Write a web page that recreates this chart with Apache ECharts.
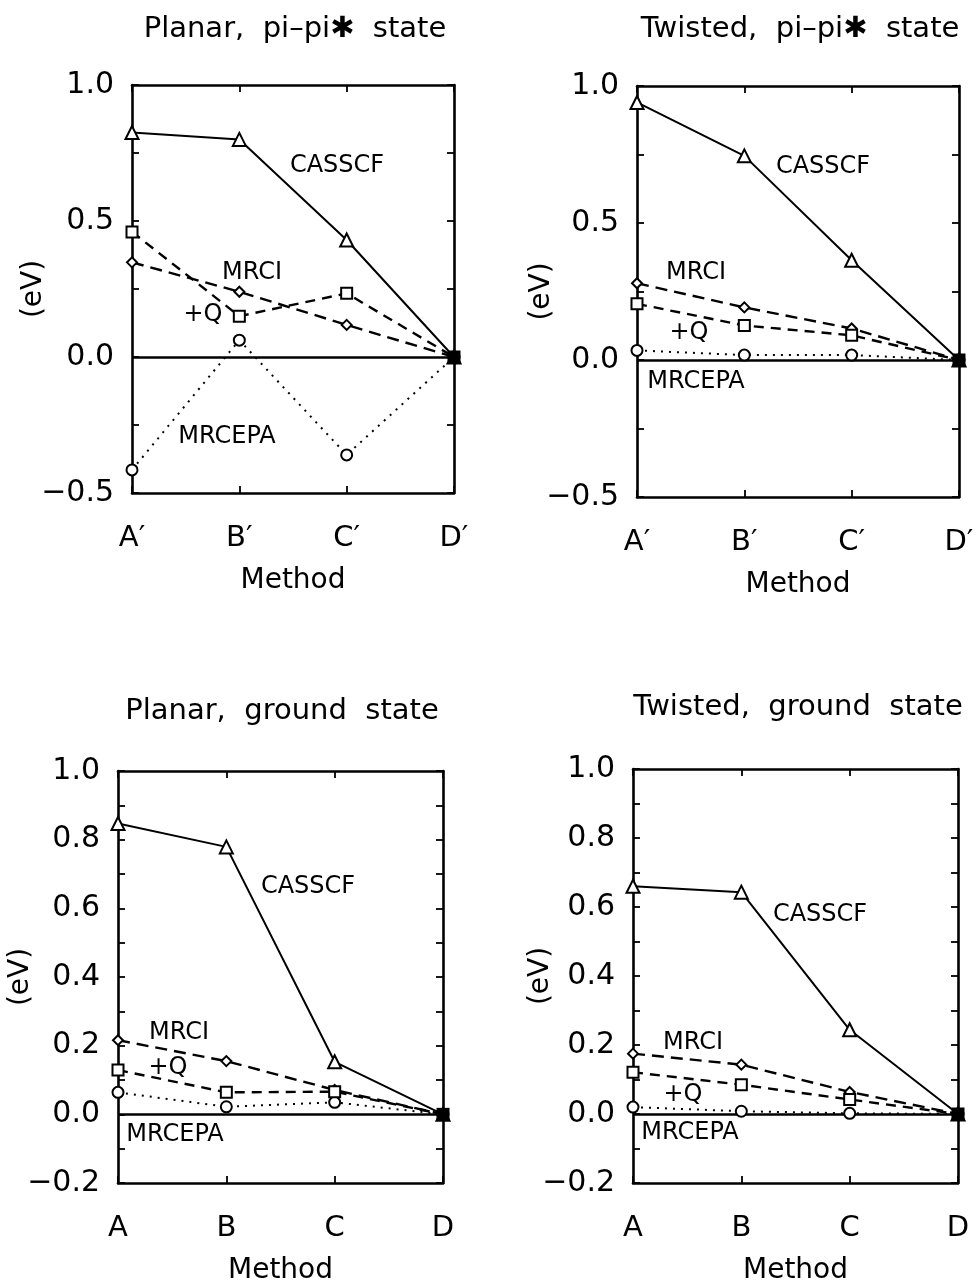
<!DOCTYPE html>
<html><head><meta charset="utf-8">
<script src="https://cdn.jsdelivr.net/npm/echarts@6/dist/echarts.min.js"></script>
<style>html,body{margin:0;padding:0;background:#fff}#c{width:980px;height:1285px}</style>
</head><body><div id="c"></div>
<script>
// ---- data ----
const catsPrime = ["A′", "B′", "C′", "D′"];
const catsPlain = ["A", "B", "C", "D"];
const seriesNames = ["CASSCF", "MRCI", "+Q", "MRCEPA"];

const planarPiCASSCF = [0.825, 0.80, 0.43, 0];
const planarPiMRCI   = [0.348, 0.24, 0.118, 0];
const planarPiQ      = [0.46, 0.15, 0.234, 0];
const planarPiMRCEPA = [-0.415, 0.062, -0.36, 0];

const twistedPiCASSCF = [0.94, 0.745, 0.364, 0];
const twistedPiMRCI   = [0.28, 0.192, 0.115, 0];
const twistedPiQ      = [0.205, 0.126, 0.09, 0];
const twistedPiMRCEPA = [0.035, 0.018, 0.018, 0];

const planarGsCASSCF = [0.847, 0.779, 0.153, 0];
const planarGsMRCI   = [0.216, 0.155, 0.071, 0];
const planarGsQ      = [0.129, 0.064, 0.066, 0];
const planarGsMRCEPA = [0.064, 0.022, 0.035, 0];

const twistedGsCASSCF = [0.66, 0.643, 0.244, 0];
const twistedGsMRCI   = [0.175, 0.143, 0.064, 0];
const twistedGsQ      = [0.121, 0.085, 0.042, 0];
const twistedGsMRCEPA = [0.02, 0.008, 0.002, 0];

const titles = ["Planar,  pi–pi✱  state", "Twisted,  pi–pi✱  state", "Planar,  ground  state", "Twisted,  ground  state"];
const yTopTicks = {min: -0.5, max: 1.0, interval: 0.25, labelStep: 0.5};
const yBotTicks = {min: -0.2, max: 1.0, interval: 0.1, labelStep: 0.2};

// ---- layout ----
const FONT = "DejaVu Sans";
const panels = [
  {grid: {left: 132, top: 85, width: 322, height: 408}, cats: catsPrime, y: yTopTicks, yNameGap: 84,
   data: [planarPiCASSCF, planarPiMRCI, planarPiQ, planarPiMRCEPA], title: [295, 29],
   labels: [[337,166],[252,273],[203,315],[227,437]]},
  {grid: {left: 637, top: 86, width: 322, height: 411}, cats: catsPrime, y: yTopTicks, yNameGap: 81,
   data: [twistedPiCASSCF, twistedPiMRCI, twistedPiQ, twistedPiMRCEPA], title: [800, 29],
   labels: [[823,167],[696,273],[689,333],[696,382]]},
  {grid: {left: 118, top: 771, width: 325, height: 412}, cats: catsPlain, y: yBotTicks, yNameGap: 83,
   data: [planarGsCASSCF, planarGsMRCI, planarGsQ, planarGsMRCEPA], title: [282, 711],
   labels: [[308,887],[179,1033],[168,1068],[175,1135]]},
  {grid: {left: 633, top: 769, width: 325, height: 414}, cats: catsPlain, y: yBotTicks, yNameGap: 78,
   data: [twistedGsCASSCF, twistedGsMRCI, twistedGsQ, twistedGsMRCEPA], title: [798, 707],
   labels: [[820,915],[693,1043],[683,1095],[690,1133]]}
];

const styles = [
  {symbol: 'emptyTriangle', size: 13, line: {type: 'solid', width: 2}},
  {symbol: 'emptyDiamond', size: 10, line: {type: [12, 7], width: 2.4}},
  {symbol: 'emptyRect', size: 11, line: {type: [10, 7], width: 2.4}},
  {symbol: 'emptyCircle', size: 11, line: {type: [2, 6], width: 2}}
];

function fmt(step) {
  return function (v) {
    const r = v / step;
    if (Math.abs(r - Math.round(r)) > 1e-6) return '';
    const s = Math.abs(v).toFixed(1);
    return (v < -1e-9 ? '−' : '') + s;
  };
}

const grid = [], xAxis = [], yAxis = [], series = [], graphic = [];
panels.forEach((p, i) => {
  grid.push(Object.assign({containLabel: false, outerBoundsMode: 'none'}, p.grid));
  const axLine = {show: true, onZero: false, lineStyle: {color: '#000', width: 2.6}};
  const tick = {show: true, inside: true, length: 7, lineStyle: {color: '#000', width: 1.8}};
  xAxis.push({
    gridIndex: i, type: 'category', data: p.cats, boundaryGap: false, position: 'bottom',
    axisLine: axLine, axisTick: tick,
    axisLabel: {color: '#000', fontFamily: FONT, fontSize: 29, margin: 31},
    splitLine: {show: false},
    name: 'Method', nameLocation: 'middle', nameGap: 74, nameMoveOverlap: false,
    nameTextStyle: {color: '#000', fontFamily: FONT, fontSize: 28}
  });
  xAxis.push({
    gridIndex: i, type: 'category', data: p.cats, boundaryGap: false, position: 'top',
    axisLine: axLine, axisTick: tick,
    axisLabel: {show: false}, splitLine: {show: false}
  });
  yAxis.push({
    gridIndex: i, type: 'value', min: p.y.min, max: p.y.max, interval: p.y.interval, position: 'left',
    axisLine: axLine, axisTick: tick,
    axisLabel: {color: '#000', fontFamily: FONT, fontSize: 30, margin: 18, formatter: fmt(p.y.labelStep)},
    splitLine: {show: false},
    name: '(eV)', nameLocation: 'middle', nameRotate: 90, nameGap: p.yNameGap, nameMoveOverlap: false,
    nameTextStyle: {color: '#000', fontFamily: FONT, fontSize: 28}
  });
  yAxis.push({
    gridIndex: i, type: 'value', min: p.y.min, max: p.y.max, interval: p.y.interval, position: 'right',
    axisLine: axLine, axisTick: tick,
    axisLabel: {show: false}, splitLine: {show: false}
  });
  p.data.forEach((d, k) => {
    const st = styles[k];
    const items = d.map((v, j) => (k === 2 && j === d.length - 1)
      ? {value: v, symbol: 'rect', symbolSize: 13, itemStyle: {color: '#000'}}
      : v);
    const s = {
      name: seriesNames[k] + ' ' + i, type: 'line', xAxisIndex: 2 * i, yAxisIndex: 2 * i, data: items,
      symbol: st.symbol, symbolSize: st.size, showAllSymbol: true,
      itemStyle: {color: '#000', borderWidth: 1.8},
      lineStyle: Object.assign({color: '#000'}, st.line),
      animation: false, z: k === 2 ? 8 : 3 + k
    };
    if (k === 0) {
      s.markLine = {silent: true, symbol: ['none', 'none'], label: {show: false},
        lineStyle: {color: '#000', type: 'solid', width: 2.6}, data: [{yAxis: 0}], animation: false};
    }
    series.push(s);
  });
  graphic.push({type: 'text', x: p.title[0], y: p.title[1], silent: true,
    style: {text: titles[i], fill: '#000', font: '29px "' + FONT + '"', textAlign: 'center', textVerticalAlign: 'middle'}});
  p.labels.forEach((xy, k) => {
    graphic.push({type: 'text', x: xy[0], y: xy[1], silent: true, z: 10,
      style: {text: seriesNames[k], fill: '#000', font: '24px "' + FONT + '"', textAlign: 'center', textVerticalAlign: 'middle'}});
  });
});

const chart = echarts.init(document.getElementById('c'), null, {renderer: 'canvas'});
chart.setOption({backgroundColor: '#fff', animation: false, grid, xAxis, yAxis, series, graphic});
</script></body></html>
